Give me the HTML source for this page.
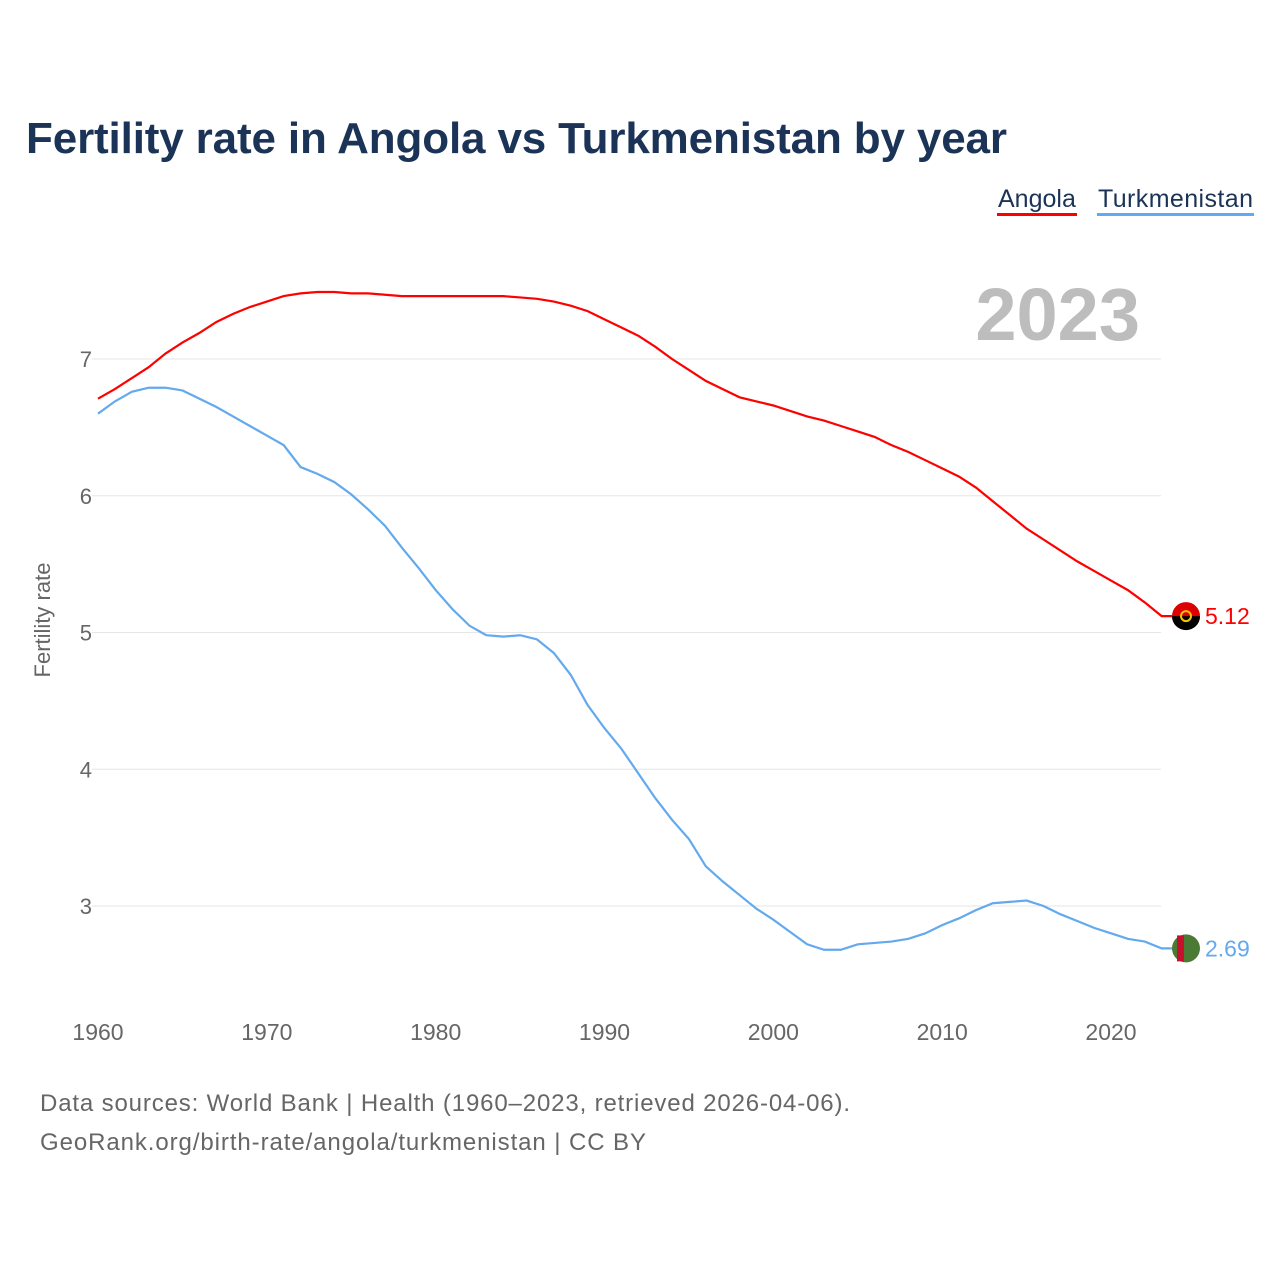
<!DOCTYPE html>
<html><head><meta charset="utf-8"><style>
body{margin:0;background:#fff;width:1280px;height:1280px;overflow:hidden;font-family:"Liberation Sans",sans-serif}
</style></head><body>
<svg width="1280" height="1280" id="c">
<text x="26" y="153" font-size="44" font-weight="bold" fill="#1b3356" textLength="981">Fertility rate in Angola vs Turkmenistan by year</text>
<g><text x="998" y="207" font-size="25" fill="#1b3356">Angola</text><rect x="997" y="213" width="80" height="3" fill="#ff0000"/></g>
<g><text x="1098" y="207" font-size="25" fill="#1b3356" textLength="155">Turkmenistan</text><rect x="1097" y="213" width="157" height="3" fill="#63a9ee"/></g>
<text x="1140" y="340" font-size="74" font-weight="bold" fill="#bdbdbd" text-anchor="end">2023</text>
<text transform="translate(50,620) rotate(-90)" font-size="22" fill="#666" text-anchor="middle">Fertility rate</text>
<g id="grid"></g><g id="series"></g>
<text x="40" y="1111" font-size="24" fill="#666" textLength="810">Data sources: World Bank | Health (1960–2023, retrieved 2026-04-06).</text>
<text x="40" y="1150" font-size="24" fill="#666" textLength="606">GeoRank.org/birth-rate/angola/turkmenistan | CC BY</text>
</svg>
<script>
const years=[];for(let y=1960;y<=2023;y++)years.push(y);
const angola=[6.71,6.78,6.86,6.94,7.04,7.12,7.19,7.27,7.33,7.38,7.42,7.46,7.48,7.49,7.49,7.48,7.48,7.47,7.46,7.46,7.46,7.46,7.46,7.46,7.46,7.45,7.44,7.42,7.39,7.35,7.29,7.23,7.17,7.09,7.00,6.92,6.84,6.78,6.72,6.69,6.66,6.62,6.58,6.55,6.51,6.47,6.43,6.37,6.32,6.26,6.20,6.14,6.06,5.96,5.86,5.76,5.68,5.60,5.52,5.45,5.38,5.31,5.22,5.12];
const turkmenistan=[6.60,6.69,6.76,6.79,6.79,6.77,6.71,6.65,6.58,6.51,6.44,6.37,6.21,6.16,6.10,6.01,5.90,5.78,5.62,5.47,5.31,5.17,5.05,4.98,4.97,4.98,4.95,4.85,4.69,4.47,4.30,4.15,3.97,3.79,3.63,3.49,3.29,3.18,3.08,2.98,2.90,2.81,2.72,2.68,2.68,2.72,2.73,2.74,2.76,2.80,2.86,2.91,2.97,3.02,3.03,3.04,3.00,2.94,2.89,2.84,2.80,2.76,2.74,2.69];
const yTicks=[3,4,5,6,7];const xTicks=[1960,1970,1980,1990,2000,2010,2020];
const X=y=>98+(y-1960)*(1111-98)/60, Y=v=>359+(7-v)*136.75;
const NS='http://www.w3.org/2000/svg';
function mk(t,a,p){const e=document.createElementNS(NS,t);for(const k in a)e.setAttribute(k,a[k]);p.appendChild(e);return e;}
const g=document.getElementById('grid');
yTicks.forEach(v=>{const l=mk('line',{x1:92,x2:1161,y1:Y(v),y2:Y(v),stroke:'#e6e6e6','stroke-width':1},g);


const t=mk('text',{x:92,y:Y(v)+8,'font-size':22,fill:'#666','text-anchor':'end'},g);t.textContent=v;

});
xTicks.forEach(v=>{const t=mk('text',{x:X(v),y:1040,'font-size':23,fill:'#666','text-anchor':'middle'},g);t.textContent=v;

});
const s=document.getElementById('series');
function line(vals,col,name){const pts=vals.map((v,i)=>X(years[i])+','+Y(v)).join(' ')+' '+(X(2023)+25)+','+Y(vals[vals.length-1]);
const p=mk('polyline',{points:pts,fill:'none',stroke:col,'stroke-width':2.2},s);


const last=vals[vals.length-1];const cy=Y(last);
const c=mk('circle',{cx:1186,cy:cy,r:14,fill:name=='angola'?'#d00':'#4b7a35'},s);


if(name=='angola'){mk('path',{d:`M1172 ${cy} A14 14 0 0 0 1200 ${cy} Z`,fill:'#000'},s);mk('circle',{cx:1186,cy:cy,r:5,fill:'none',stroke:'#f5c400','stroke-width':2},s);}
else{mk('rect',{x:1177,y:cy-13,width:7,height:26,fill:'#c8102e'},s);}
const t=mk('text',{x:1205,y:cy+8,'font-size':23,fill:col},s);t.textContent=last.toFixed(2);

}
line(angola,'#ff0000','angola');line(turkmenistan,'#63a9ee','turkmenistan');
</script>
</body></html>
